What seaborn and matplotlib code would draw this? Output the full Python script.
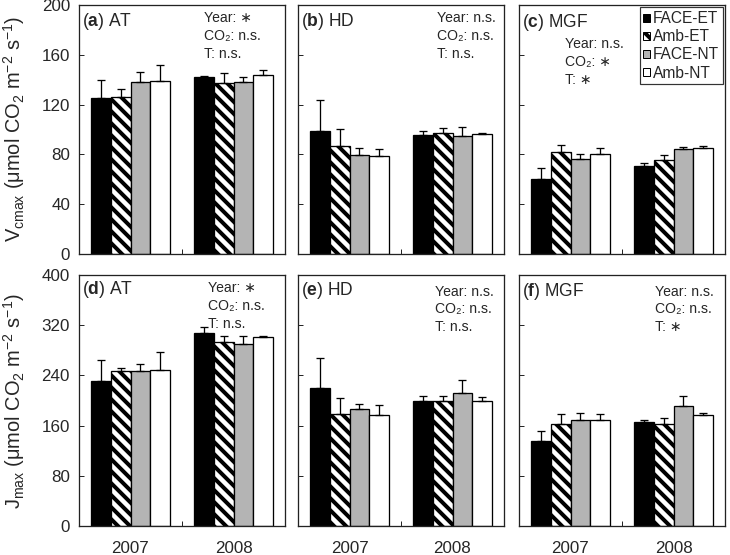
import numpy as np
import pandas as pd
import matplotlib
matplotlib.use("Agg")
import matplotlib.pyplot as plt
from matplotlib.patches import Patch
import seaborn as sns

# ---------------- data ----------------
years = ["2007", "2008"]
treatments = ["FACE-ET", "Amb-ET", "FACE-NT", "Amb-NT"]
sites = ["AT", "HD", "MGF"]
panel_letters = ["a", "b", "c", "d", "e", "f"]

# rows = treatments (FACE-ET, Amb-ET, FACE-NT, Amb-NT); cols = years (2007, 2008)
vcmax_AT_mean = [[125.0, 142.0], [126.5, 137.5], [138.0, 138.5], [139.0, 144.0]]
vcmax_AT_se = [[15.0, 0.6], [6.0, 8.0], [8.5, 3.5], [12.5, 4.0]]
vcmax_HD_mean = [[98.7, 95.2], [86.4, 97.1], [79.2, 94.7], [78.7, 96.0]]
vcmax_HD_se = [[25.0, 3.2], [14.0, 4.0], [5.6, 7.3], [6.0, 1.3]]
vcmax_MGF_mean = [[60.5, 70.9], [81.9, 75.2], [76.3, 84.3], [80.3, 85.3]]
vcmax_MGF_se = [[8.5, 2.1], [5.8, 4.3], [4.0, 1.6], [5.0, 1.4]]

jmax_AT_mean = [[230.5, 307.2], [246.5, 292.8], [247.6, 290.7], [249.2, 301.4]]
jmax_AT_se = [[34.7, 10.7], [4.8, 10.7], [10.7, 11.7], [28.8, 2.1]]
jmax_HD_mean = [[220.4, 198.6], [177.8, 199.2], [186.4, 212.5], [176.8, 199.2]]
jmax_HD_se = [[48.0, 9.1], [26.2, 8.5], [8.5, 20.3], [15.4, 6.8]]
jmax_MGF_mean = [[135.8, 166.1], [161.8, 162.9], [168.2, 191.7], [168.8, 176.2]]
jmax_MGF_se = [[15.5, 3.2], [16.6, 9.6], [11.8, 15.5], [9.0, 4.3]]

stats_year = ["∗", "n.s.", "n.s.", "∗", "n.s.", "n.s."]
stats_co2 = ["n.s.", "n.s.", "∗", "n.s.", "n.s.", "n.s."]
stats_t = ["n.s.", "n.s.", "∗", "n.s.", "n.s.", "∗"]

vcmax_ticks = [0, 40, 80, 120, 160, 200]
jmax_ticks = [0, 80, 160, 240, 320, 400]

# ---------------- style ----------------
sns.set_style("ticks")
plt.rcParams["font.family"] = ["Liberation Sans", "DejaVu Sans"]
plt.rcParams["mathtext.fontset"] = "custom"
plt.rcParams["mathtext.rm"] = "Liberation Sans"
plt.rcParams["mathtext.it"] = "Liberation Sans:italic"
plt.rcParams["mathtext.bf"] = "Liberation Sans:bold"
plt.rcParams["hatch.linewidth"] = 4.0
plt.rcParams["hatch.color"] = "black"

face_colors = {"FACE-ET": "black", "Amb-ET": "white", "FACE-NT": "#b4b4b4", "Amb-NT": "white"}
hatches = {"FACE-ET": "", "Amb-ET": "\\\\", "FACE-NT": "", "Amb-NT": ""}

DPI = 72
W, H = 730, 555
fig = plt.figure(figsize=(W / DPI, H / DPI), dpi=DPI)

col_left = [79, 298, 519]
col_w = 206
row_top = [5, 275]
row_bot = [254, 526]

means = [vcmax_AT_mean, vcmax_HD_mean, vcmax_MGF_mean, jmax_AT_mean, jmax_HD_mean, jmax_MGF_mean]
ses = [vcmax_AT_se, vcmax_HD_se, vcmax_MGF_se, jmax_AT_se, jmax_HD_se, jmax_MGF_se]

# text positions (pixel centres from top of figure)
ann_x = [204, 437, 565, 208, 435, 655]
ann_y = [[17, 35, 53], [17, 35, 53], [43, 61, 79], [287, 305, 322.5], [291, 308.5, 326], [291, 308.5, 326]]
lab_x = [82, 301, 522, 82, 301, 522]
lab_y = [20, 20, 21, 288, 289, 290]

for p in range(6):
    r, c = divmod(p, 3)
    left = col_left[c]
    top, bot = row_top[r], row_bot[r]
    ax = fig.add_axes([left / W, 1 - bot / H, col_w / W, (bot - top) / H])

    rows = []
    for ti, trt in enumerate(treatments):
        for yi, yr in enumerate(years):
            rows.append({"year": yr, "trt": trt, "value": means[p][ti][yi], "se": ses[p][ti][yi]})
    df = pd.DataFrame(rows)

    sns.barplot(data=df, x="year", y="value", hue="trt", hue_order=treatments, order=years,
                palette=face_colors, width=0.76, errorbar=None, edgecolor="black",
                linewidth=1.3, saturation=1, legend=False, ax=ax)

    bar_containers = list(ax.containers)
    for ti, cont in enumerate(bar_containers):
        trt = treatments[ti]
        for yi, bar in enumerate(cont):
            bar.set_hatch(hatches[trt])
            bar.set_edgecolor("black")
            xc = bar.get_x() + bar.get_width() / 2
            h = bar.get_height()
            e = df[(df.trt == trt) & (df.year == years[yi])]["se"].values[0]
            ax.errorbar([xc], [h], yerr=[[0], [e]], fmt="none", ecolor="black",
                        elinewidth=1.3, capsize=3.8, capthick=1.3, zorder=5)

    ax.set_xlim(-0.5, 1.5)
    ticks = vcmax_ticks if r == 0 else jmax_ticks
    ax.set_ylim(ticks[0], ticks[-1])
    ax.set_yticks(ticks)
    ax.set_xlabel("")
    ax.set_ylabel("")
    ax.tick_params(axis="y", direction="in", length=5, width=1, labelsize=17, pad=9,
                   right=False, labelleft=(c == 0))
    ax.tick_params(axis="x", which="major", length=0, labelsize=17, pad=15,
                   labelbottom=(r == 1))
    ax.set_xticks([0.5], minor=True)
    ax.tick_params(axis="x", which="minor", direction="in", length=5, width=1, bottom=True)
    for s in ax.spines.values():
        s.set_visible(True)
        s.set_linewidth(1.3)
        s.set_color("#222222")

    def fy(ypx):
        return (bot - ypx) / (bot - top)

    def fx(xpx):
        return (xpx - left) / col_w

    site = sites[c]
    ax.text(fx(lab_x[p]), fy(lab_y[p] + 6.3), r"($\mathbf{%s}$) %s" % (panel_letters[p], site),
            transform=ax.transAxes, fontsize=17.5, ha="left", va="baseline")
    lines = ["Year: " + stats_year[p], "CO₂: " + stats_co2[p], "T: " + stats_t[p]]
    for li, txt in enumerate(lines):
        ax.text(fx(ann_x[p]), fy(ann_y[p][li] + 5), txt, transform=ax.transAxes,
                fontsize=14, ha="left", va="baseline")

    if p == 2:
        handles = [Patch(facecolor=face_colors[t], edgecolor="black", hatch=hatches[t],
                         linewidth=1.0, label=t) for t in treatments]
        leg = ax.legend(handles=handles, loc="upper right", bbox_to_anchor=(1.0, 1.0),
                        fontsize=15.5, handlelength=0.45, handleheight=0.45,
                        handletextpad=0.15, labelspacing=0.2, borderpad=0.25,
                        borderaxespad=0.15, frameon=True, fancybox=False)
        leg.get_frame().set_edgecolor("black")
        leg.get_frame().set_linewidth(1.2)

fig.text(14 / W, 1 - 129 / H, r"V$_{\mathrm{cmax}}$ (μmol CO$_2$ m$^{-2}$ s$^{-1}$)",
         rotation=90, ha="center", va="center", fontsize=20)
fig.text(14 / W, 1 - 401 / H, r"J$_{\mathrm{max}}$ (μmol CO$_2$ m$^{-2}$ s$^{-1}$)",
         rotation=90, ha="center", va="center", fontsize=20)

fig.savefig("out.png", dpi=DPI)
